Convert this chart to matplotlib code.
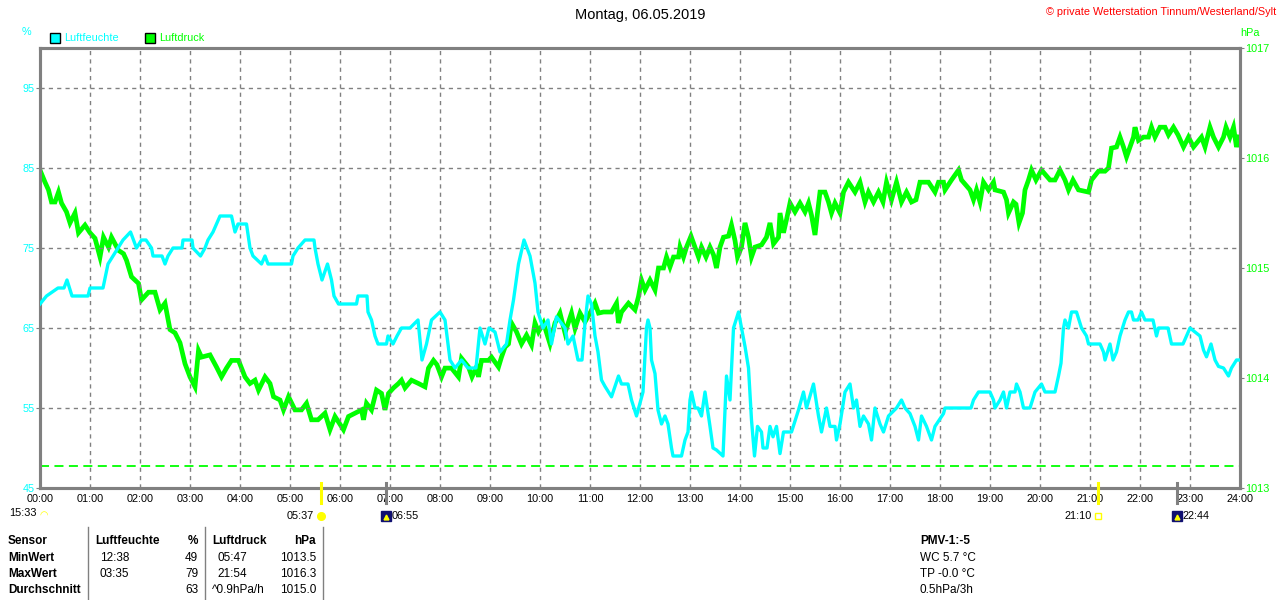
import matplotlib
matplotlib.use("Agg")
import matplotlib.pyplot as plt
from matplotlib.patches import Rectangle

plt.rcParams['font.family'] = ['Liberation Sans', 'DejaVu Sans']

CYAN = '#00ffff'
GREEN = '#00ff00'
GRAY = '#808080'

# Luftfeuchte (%) - time in hours
hum_t = [0.00, 0.13, 0.36, 0.48, 0.54, 0.64, 0.96, 1.00, 1.26, 1.36, 1.46, 1.56, 1.66, 1.81,
         1.93, 2.03, 2.12, 2.23, 2.26, 2.44, 2.50, 2.56, 2.66, 2.84, 2.86, 3.04, 3.06, 3.21,
         3.30, 3.36, 3.46, 3.60, 3.83, 3.90, 3.96, 4.13, 4.20, 4.26, 4.43, 4.50, 4.56, 5.03,
         5.06, 5.16, 5.30, 5.48, 5.50, 5.56, 5.64, 5.75, 5.83, 5.88, 5.97, 6.33, 6.36, 6.54,
         6.56, 6.63, 6.70, 6.76, 6.93, 6.96, 7.06, 7.14, 7.23, 7.40, 7.56, 7.64, 7.73, 7.83,
         8.00, 8.10, 8.20, 8.30, 8.43, 8.56, 8.72, 8.80, 8.90, 8.98, 9.10, 9.20, 9.33, 9.40,
         9.47, 9.57, 9.68, 9.80, 9.90, 9.96, 10.06, 10.16, 10.23, 10.33, 10.50, 10.56, 10.66,
         10.76, 10.84, 10.90, 10.96, 11.03, 11.10, 11.16, 11.23, 11.30, 11.43, 11.57, 11.63,
         11.76, 11.83, 11.93, 12.00, 12.06, 12.13, 12.16, 12.20, 12.23, 12.30, 12.36, 12.43,
         12.50, 12.56, 12.63, 12.66, 12.83, 12.90, 12.96, 13.00, 13.03, 13.10, 13.16, 13.23,
         13.30, 13.40, 13.46, 13.53, 13.66, 13.73, 13.80, 13.87, 13.97, 14.03, 14.10, 14.17,
         14.23, 14.29, 14.35, 14.43, 14.46, 14.54, 14.60, 14.66, 14.73, 14.80, 14.87, 15.03,
         15.17, 15.27, 15.33, 15.47, 15.57, 15.63, 15.73, 15.80, 15.90, 15.93, 16.00, 16.10,
         16.20, 16.27, 16.33, 16.40, 16.47, 16.57, 16.63, 16.70, 16.80, 16.87, 16.97, 17.13,
         17.23, 17.30, 17.40, 17.50, 17.57, 17.63, 17.73, 17.83, 17.90, 18.07, 18.10, 18.62,
         18.67, 18.77, 19.00, 19.07, 19.10, 19.20, 19.27, 19.33, 19.40, 19.50, 19.53, 19.60,
         19.67, 19.80, 19.90, 20.03, 20.10, 20.30, 20.37, 20.42, 20.47, 20.50, 20.57, 20.63,
         20.73, 20.83, 20.93, 20.97, 21.20, 21.27, 21.30, 21.40, 21.46, 21.53, 21.60, 21.70,
         21.77, 21.83, 21.87, 21.96, 22.03, 22.10, 22.26, 22.33, 22.37, 22.56, 22.63, 22.86,
         22.93, 23.00, 23.10, 23.20, 23.27, 23.33, 23.42, 23.50, 23.57, 23.67, 23.77, 23.83,
         23.93, 24.00]
hum_v = [68, 69, 70, 70, 71, 69, 69, 70, 70, 73, 74, 75, 76, 77,
         75, 76, 76, 75, 74, 74, 73, 74, 75, 75, 76, 76, 75, 74,
         75, 76, 77, 79, 79, 77, 78, 78, 75, 74, 73, 74, 73, 73,
         74, 75, 76, 76, 75, 73, 71, 73, 71, 69, 68, 68, 69, 69,
         67, 66, 64, 63, 63, 64, 63, 64, 65, 65, 66, 61, 63, 66,
         67, 66, 61, 60, 61, 60, 60, 65, 63, 65, 64.5, 62, 63, 66,
         68.5, 73, 76, 74, 70.6, 67, 65, 66, 63, 66.4, 65, 63, 64,
         61, 61, 65.6, 69, 68, 64, 62, 58.5, 57.7, 56.4, 59, 58,
         58, 56, 54, 55.6, 57, 65, 66, 65, 61, 59.3, 54.75, 53,
         54, 53, 50, 49, 49, 51, 52, 56, 57, 55, 55, 54,
         57, 52.7, 50, 49.75, 49, 59, 56, 65, 67, 65, 62.7, 60,
         53.5, 49, 52.7, 52, 50, 50, 52.7, 51.4, 52.7, 49.3, 52, 52,
         54.75, 57, 55, 58, 54, 52, 55, 52.7, 52.7, 51, 53, 57,
         58, 55, 56, 52.7, 54, 53, 51, 55, 53, 52, 54, 55,
         56, 55, 54.3, 52.7, 51, 54, 52.7, 51, 52.7, 54.3, 55, 55,
         56, 57, 57, 56, 55, 56, 57, 55, 57, 57, 58, 57,
         55, 55, 57, 58, 57, 57, 59, 60.6, 65, 66, 65, 67,
         67, 65, 64, 63, 63, 62, 61, 63, 61, 62, 64, 66,
         67, 67, 66, 66, 67, 66, 66, 64, 65, 65, 63, 63,
         64, 65, 64.5, 64, 62.25, 61.4, 63, 61, 60.2, 60, 59, 60,
         61, 61]

# Luftdruck (hPa)
prs_t = [0.00, 0.10, 0.17, 0.23, 0.30, 0.37, 0.43, 0.53, 0.60, 0.70, 0.77, 0.90, 1.00, 1.10,
         1.20, 1.27, 1.37, 1.43, 1.57, 1.67, 1.73, 1.83, 1.97, 2.03, 2.17, 2.30, 2.40, 2.50,
         2.60, 2.70, 2.80, 2.90, 3.00, 3.10, 3.17, 3.23, 3.40, 3.53, 3.63, 3.73, 3.83, 3.97,
         4.10, 4.20, 4.30, 4.37, 4.50, 4.60, 4.67, 4.80, 4.87, 4.97, 5.10, 5.23, 5.33, 5.43,
         5.56, 5.70, 5.80, 5.90, 6.07, 6.17, 6.30, 6.43, 6.47, 6.53, 6.63, 6.73, 6.83, 6.90,
         6.97, 7.07, 7.17, 7.23, 7.30, 7.43, 7.57, 7.70, 7.77, 7.87, 7.94, 8.03, 8.10, 8.23,
         8.37, 8.43, 8.57, 8.64, 8.73, 8.77, 8.83, 8.97, 9.03, 9.17, 9.23, 9.30, 9.37, 9.43,
         9.53, 9.63, 9.73, 9.83, 9.90, 9.97, 10.07, 10.20, 10.30, 10.40, 10.50, 10.63, 10.70,
         10.80, 10.90, 11.00, 11.10, 11.17, 11.27, 11.43, 11.53, 11.57, 11.63, 11.77, 11.90,
         11.97, 12.03, 12.10, 12.20, 12.30, 12.37, 12.47, 12.53, 12.60, 12.67, 12.77, 12.80,
         12.87, 12.93, 13.02, 13.10, 13.17, 13.23, 13.32, 13.40, 13.47, 13.53, 13.60, 13.67,
         13.77, 13.83, 13.90, 13.95, 14.03, 14.10, 14.17, 14.23, 14.30, 14.43, 14.53, 14.60,
         14.67, 14.77, 14.80, 14.87, 14.93, 15.00, 15.10, 15.20, 15.30, 15.37, 15.43, 15.50,
         15.55, 15.60, 15.70, 15.77, 15.83, 15.90, 16.00, 16.07, 16.17, 16.30, 16.40, 16.50,
         16.57, 16.67, 16.77, 16.86, 16.93, 17.03, 17.13, 17.23, 17.33, 17.43, 17.52, 17.60,
         17.77, 17.90, 17.97, 18.07, 18.10, 18.23, 18.37, 18.43, 18.60, 18.67, 18.73, 18.80,
         18.87, 18.97, 19.07, 19.10, 19.27, 19.33, 19.37, 19.47, 19.52, 19.58, 19.65, 19.70,
         19.77, 19.83, 19.92, 20.03, 20.20, 20.30, 20.40, 20.50, 20.57, 20.66, 20.77, 20.97,
         21.03, 21.17, 21.30, 21.37, 21.43, 21.53, 21.60, 21.67, 21.73, 21.80, 21.87, 21.90,
         21.97, 22.07, 22.17, 22.23, 22.30, 22.40, 22.50, 22.57, 22.67, 22.76, 22.87, 22.97,
         23.07, 23.23, 23.30, 23.40, 23.47, 23.57, 23.67, 23.72, 23.80, 23.87, 23.93, 23.98]
prs_v = [1015.89, 1015.78, 1015.71, 1015.60, 1015.60, 1015.69, 1015.59, 1015.51, 1015.41, 1015.50,
         1015.32, 1015.39, 1015.32, 1015.27, 1015.10, 1015.28, 1015.19, 1015.28, 1015.16, 1015.13,
         1015.07, 1014.92, 1014.86, 1014.71, 1014.78, 1014.78, 1014.62, 1014.68, 1014.44, 1014.41,
         1014.32, 1014.13, 1014.01, 1013.92, 1014.25, 1014.19, 1014.21, 1014.10, 1014.01, 1014.09,
         1014.16, 1014.16, 1014.01, 1013.95, 1013.98, 1013.89, 1014.01, 1013.95, 1013.83, 1013.80,
         1013.71, 1013.83, 1013.71, 1013.71, 1013.77, 1013.62, 1013.62, 1013.68, 1013.53, 1013.65,
         1013.53, 1013.65, 1013.68, 1013.71, 1013.62, 1013.77, 1013.71, 1013.89, 1013.86, 1013.71,
         1013.86, 1013.91, 1013.95, 1013.98, 1013.91, 1013.98, 1013.95, 1013.92, 1014.09, 1014.16,
         1014.12, 1014.01, 1014.09, 1014.09, 1014.01, 1014.18, 1014.10, 1014.01, 1014.10, 1014.01,
         1014.16, 1014.16, 1014.19, 1014.10, 1014.19, 1014.28, 1014.31, 1014.50, 1014.42, 1014.31,
         1014.39, 1014.30, 1014.50, 1014.42, 1014.50, 1014.31, 1014.50, 1014.59, 1014.41, 1014.59,
         1014.45, 1014.59, 1014.51, 1014.59, 1014.68, 1014.59, 1014.60, 1014.60, 1014.68, 1014.50,
         1014.60, 1014.68, 1014.62, 1014.74, 1014.89, 1014.80, 1014.89, 1014.80, 1015.00, 1015.00,
         1015.10, 1015.01, 1015.10, 1015.10, 1015.19, 1015.10, 1015.19, 1015.29, 1015.19, 1015.10,
         1015.19, 1015.10, 1015.19, 1015.12, 1015.00, 1015.19, 1015.28, 1015.29, 1015.39, 1015.25,
         1015.10, 1015.19, 1015.41, 1015.28, 1015.10, 1015.19, 1015.21, 1015.28, 1015.41, 1015.22,
         1015.28, 1015.50, 1015.32, 1015.44, 1015.59, 1015.51, 1015.59, 1015.51, 1015.59, 1015.48,
         1015.30, 1015.50, 1015.69, 1015.69, 1015.60, 1015.50, 1015.59, 1015.50, 1015.69, 1015.78,
         1015.69, 1015.78, 1015.60, 1015.69, 1015.60, 1015.69, 1015.60, 1015.78, 1015.62, 1015.78,
         1015.60, 1015.69, 1015.60, 1015.62, 1015.78, 1015.78, 1015.69, 1015.78, 1015.78, 1015.71,
         1015.80, 1015.89, 1015.80, 1015.71, 1015.62, 1015.71, 1015.60, 1015.78, 1015.71, 1015.78,
         1015.71, 1015.69, 1015.62, 1015.50, 1015.60, 1015.58, 1015.41, 1015.50, 1015.71, 1015.80,
         1015.89, 1015.80, 1015.89, 1015.80, 1015.80, 1015.89, 1015.80, 1015.71, 1015.80, 1015.71,
         1015.69, 1015.80, 1015.88, 1015.88, 1015.91, 1016.09, 1016.10, 1016.19, 1016.10, 1016.01,
         1016.10, 1016.19, 1016.28, 1016.16, 1016.19, 1016.19, 1016.28, 1016.19, 1016.28, 1016.28,
         1016.21, 1016.28, 1016.21, 1016.10, 1016.19, 1016.10, 1016.19, 1016.10, 1016.28, 1016.19,
         1016.10, 1016.19, 1016.28, 1016.19, 1016.28, 1016.10, 1016.19]

prs_ref = 1013.2  # dashed line

hum_ticks = [45, 55, 65, 75, 85, 95]
prs_ticks = [1013, 1014, 1015, 1016, 1017]
hour_labels = ['%02d:00' % h for h in range(25)]

# sun / moon events: (time h, label, kind)
events = [(5.617, '05:37', 'sunrise'), (6.917, '06:55', 'moonrise'),
          (21.167, '21:10', 'sunset'), (22.733, '22:44', 'moonset')]

table_rows = [
    ['Sensor', 'Luftfeuchte', '%', 'Luftdruck', 'hPa'],
    ['MinWert', '12:38', '49', '05:47', '1013.5'],
    ['MaxWert', '03:35', '79', '21:54', '1016.3'],
    ['Durchschnitt', '', '63', '^0.9hPa/h', '1015.0'],
]
extra_lines = ['PMV-1:-5', 'WC 5.7 °C', 'TP -0.0 °C', '0.5hPa/3h']

W, H = 1280, 600


def fx(x):
    return x / W


def fy(y):
    return 1 - y / H


fig = plt.figure(figsize=(12.8, 6), dpi=100)
ax = fig.add_axes([fx(40), fy(488), 1200 / W, 440 / H])
ax2 = ax.twinx()

ax.set_xlim(0, 24)
ax.set_ylim(45, 100)
ax2.set_ylim(1013, 1017)

for a in (ax, ax2):
    for s in a.spines.values():
        s.set_color(GRAY)
        s.set_linewidth(2.2)

ax.set_xticks(range(25))
ax.set_xticklabels(hour_labels, fontsize=7.8)
ax.tick_params(axis='x', length=0, pad=4)
ax.set_yticks(hum_ticks)
ax.tick_params(axis='y', colors=GRAY, labelcolor=CYAN, labelsize=7.8, length=3, pad=1)
ax2.set_yticks(prs_ticks)
ax2.set_yticklabels([str(v) for v in prs_ticks])
ax2.tick_params(axis='y', colors=GRAY, labelcolor=GREEN, labelsize=7.8, length=3, pad=1)

ax.grid(True, color=GRAY, linestyle=(0, (3, 3)), linewidth=1)
ax.set_axisbelow(True)

ax2.plot(prs_t, prs_v, color=GREEN, linewidth=3.4, solid_joinstyle='miter', zorder=3)
ax2.axhline(prs_ref, color=GREEN, linestyle=(0, (5, 3)), linewidth=1.3)
ax.plot(hum_t, hum_v, color=CYAN, linewidth=2.4, zorder=4)
ax.set_zorder(ax2.get_zorder() + 1)
ax.patch.set_visible(False)

# event ticks and labels
xt = ax.get_xaxis_transform()
for t, lab, kind in events:
    col = 'yellow' if kind.startswith('sun') else GRAY
    ax.plot([t, t], [-0.035, 0.012], color=col, linewidth=2.2, transform=xt, clip_on=False, zorder=5)
    if kind.startswith('sun'):
        ax.text(t - 0.13, -0.063, lab, transform=xt, ha='right', va='center', fontsize=7.8)
        if kind == 'sunrise':
            ax.plot([t], [-0.063], 'o', color='yellow', markersize=5.5, transform=xt, clip_on=False)
        else:
            ax.plot([t], [-0.063], 's', mfc='none', mec='yellow', markersize=4, transform=xt, clip_on=False)
    else:
        ax.plot([t], [-0.063], 's', color='#101070', markersize=7, transform=xt, clip_on=False)
        ax.plot([t], [-0.066], '^', color='yellow', markersize=3.5, transform=xt, clip_on=False)
        ax.text(t + 0.11, -0.063, lab, transform=xt, ha='left', va='center', fontsize=7.8)

fig.text(fx(37), fy(513), '15:33', ha='right', va='center', fontsize=7.8)
fig.text(fx(44), fy(515), '\u25e0', ha='center', va='center', fontsize=7, color='yellow')

# header texts
fig.text(0.5, fy(15), 'Montag, 06.05.2019', ha='center', va='center', fontsize=10.5)
fig.text(fx(1276), fy(12), '\u00a9 private Wetterstation Tinnum/Westerland/Sylt',
         ha='right', va='center', fontsize=7.8, color='red')
fig.text(fx(22), fy(32), '%', ha='left', va='center', fontsize=7.8, color=CYAN)
fig.text(fx(1240), fy(33), 'hPa', ha='left', va='center', fontsize=7.8, color=GREEN)

legend_items = [('Luftfeuchte', CYAN, 50), ('Luftdruck', GREEN, 145)]
for name, col, x0 in legend_items:
    fig.patches.append(Rectangle((fx(x0), fy(43)), 10 / W, 10 / H, transform=fig.transFigure,
                                 facecolor=col, edgecolor='black', linewidth=1))
    fig.text(fx(x0 + 14), fy(38), name, ha='left', va='center', fontsize=7.8, color=col)

# table at the bottom
for xl in (88, 205, 323):
    fig.add_artist(plt.Line2D([fx(xl), fx(xl)], [fy(527), fy(600)], color=GRAY, linewidth=1))

row_y = [541, 558, 574, 590]
col_x = [8, 95, 198, 212, 316]
col_ha = ['left', 'left', 'right', 'left', 'right']
for r, row in enumerate(table_rows):
    for c, txt in enumerate(row):
        bold = r == 0 or c == 0
        x = col_x[c]
        if r > 0 and c in (1, 3) and not txt.startswith('^'):
            x += 5
        fig.text(fx(x), fy(row_y[r]), txt, ha=col_ha[c], va='center', fontsize=8.5,
                 fontweight='bold' if bold else 'normal')

for i, txt in enumerate(extra_lines):
    fig.text(fx(920), fy(row_y[i]), txt, ha='left', va='center', fontsize=8.5,
             fontweight='bold' if i == 0 else 'normal')

fig.savefig('out.png', dpi=100)
